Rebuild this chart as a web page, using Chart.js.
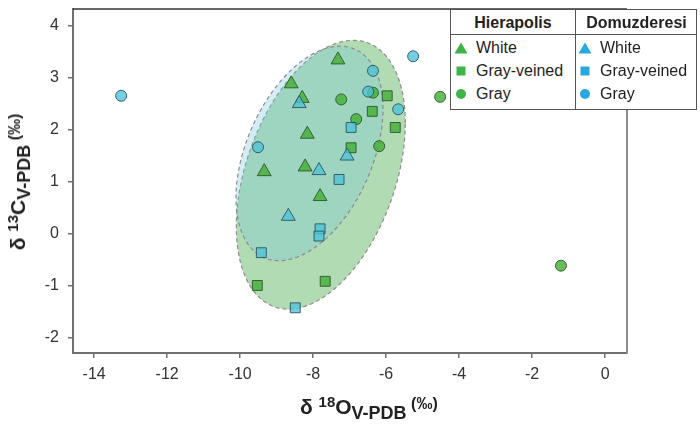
<!DOCTYPE html>
<html>
<head>
<meta charset="utf-8">
<script src="https://cdn.jsdelivr.net/npm/chart.js@4.4.0/dist/chart.umd.min.js"></script>
<style>
  body { margin: 0; background: #fff; font-family: Arial, "Liberation Sans", sans-serif; color: #222; }
  #wrap { position: relative; width: 700px; height: 428px; overflow: hidden; }
  canvas { position: absolute; left: 0; top: 0; }
  .title { position: absolute; font-weight: bold; white-space: nowrap; line-height: 22px; color: #222; }
  .title .m { font-size: 21px; }
  .title .sup { font-size: 15px; position: relative; top: -7px; }
  .title .sub { font-size: 18px; position: relative; top: 5px; }
  .title .pm { font-size: 16px; position: relative; top: -5px; }
  #xTitle { left: 300px; top: 396px; }
  #yTitle { left: 19px; top: 182px; transform: translate(-50%, -50%) rotate(-90deg); }
  #legend { position: absolute; left: 450px; top: 9px; width: 247px; height: 101px; border: 1.5px solid #555; background: #fff; box-sizing: border-box; }
  #legend .hdr { position: absolute; top: 0; height: 25px; line-height: 25px; text-align: center; font-weight: bold; font-size: 16px; }
  #legend .hline { position: absolute; left: 0; right: 0; top: 24px; border-top: 1.5px solid #555; }
  #legend .vline { position: absolute; top: 0; bottom: 0; left: 124px; border-left: 1.5px solid #555; }
  #legend .item { position: absolute; font-size: 16px; line-height: 20px; white-space: nowrap; }
  #legend svg { position: absolute; left: 0; top: 4px; }
  #legend .item span { position: absolute; left: 22px; top: 0; }
</style>
</head>
<body>
<div id="wrap">
  <canvas id="chart" width="700" height="428"></canvas>
  <div id="xTitle" class="title"><span class="m">δ </span><span class="sup">18</span><span class="m">O</span><span class="sub">V-PDB</span> <span class="pm">(‰)</span></div>
  <div id="yTitle" class="title"><span class="m">δ </span><span class="sup">13</span><span class="m">C</span><span class="sub">V-PDB</span> <span class="pm">(‰)</span></div>
  <div id="legend"></div>
</div>
<script>
// tick values
const xTicks = [-14, -12, -10, -8, -6, -4, -2, 0];
const yTicks = [-2, -1, 0, 1, 2, 3, 4];

// legend groups
const sites = ["Hierapolis", "Domuzderesi"];
const marbleTypes = ["White", "Gray-veined", "Gray"];

// Hierapolis samples (δ18O, δ13C)
const hierWhiteX = [-8.60, -7.32, -8.30, -8.16, -9.34, -8.22, -7.81];
const hierWhiteY = [2.88, 3.34, 2.60, 1.91, 1.19, 1.28, 0.71];
const hierVeinedX = [-5.97, -5.75, -6.96, -6.38, -9.53, -7.67];
const hierVeinedY = [2.65, 2.04, 1.65, 2.35, -1.00, -0.92];
const hierGrayX = [-7.23, -6.36, -6.82, -6.19, -4.52, -1.21];
const hierGrayY = [2.58, 2.71, 2.20, 1.68, 2.63, -0.62];

// Domuzderesi samples
const domWhiteX = [-8.38, -7.84, -8.68, -7.07];
const domWhiteY = [2.50, 1.21, 0.33, 1.49];
const domVeinedX = [-6.96, -7.29, -7.81, -7.84, -9.42, -8.49];
const domVeinedY = [2.04, 1.04, 0.09, -0.05, -0.37, -1.43];
const domGrayX = [-6.36, -6.49, -5.67, -9.51, -5.26, -13.26];
const domGrayY = [3.13, 2.73, 2.39, 1.66, 3.41, 2.65];

// confidence ellipses: centre x, centre y, sd x, sd y, correlation
const hierEllipse = [-7.79, 1.13, 2.315, 2.587, 0.385];
const domEllipse = [-8.10, 1.54, 2.014, 2.064, 0.415];

const toPoints = (xs, ys) => xs.map((v, i) => ({ x: v, y: ys[i] }));

const hierFill = "rgba(70,175,55,0.82)";
const hierLine = "rgba(45,85,45,0.9)";
const domFill = "rgba(75,195,215,0.78)";
const domLine = "rgba(45,80,95,0.9)";

function ds(label, xs, ys, style, fill, line) {
    const r = style === "triangle" ? 8 : style === "rect" ? 7 : 5.5;
    return {
        label: label,
        data: toPoints(xs, ys),
        pointStyle: style,
        pointRadius: r,
        backgroundColor: fill,
        borderColor: line,
        borderWidth: 1
    };
}

// ellipses are drawn under the points, through the chart's scales
const ellipsePlugin = {
    id: "ellipses",
    beforeDatasetsDraw(chart) {
        const { ctx, scales: { x, y } } = chart;
        const list = [[hierEllipse, "rgba(99,185,103,0.5)"], [domEllipse, "rgba(121,199,221,0.32)"]];
        list.forEach(([e, fill]) => {
            const [cx, cy, sx, sy, r] = e;
            ctx.save();
            ctx.beginPath();
            for (let i = 0; i <= 180; i++) {
                const t = i / 180 * 2 * Math.PI;
                const dx = cx + sx * Math.cos(t);
                const dy = cy + sy * (r * Math.cos(t) + Math.sqrt(1 - r * r) * Math.sin(t));
                const px = x.getPixelForValue(dx), py = y.getPixelForValue(dy);
                if (i === 0) ctx.moveTo(px, py); else ctx.lineTo(px, py);
            }
            ctx.closePath();
            ctx.fillStyle = fill;
            ctx.fill();
            ctx.setLineDash([4, 3]);
            ctx.strokeStyle = "#8c8c8c";
            ctx.lineWidth = 1.2;
            ctx.stroke();
            ctx.restore();
        });
    },
    afterDraw(chart) {
        // top and right frame lines
        const { ctx, chartArea: a } = chart;
        ctx.save();
        ctx.strokeStyle = "#333";
        ctx.lineWidth = 1.5;
        ctx.beginPath();
        ctx.moveTo(a.left, a.top);
        ctx.lineTo(a.right, a.top);
        ctx.stroke();
        ctx.strokeStyle = "#8a8a8a";
        ctx.lineWidth = 2;
        ctx.beginPath();
        ctx.moveTo(a.right, a.top);
        ctx.lineTo(a.right, a.bottom);
        ctx.stroke();
        ctx.restore();
    }
};

const axisGrid = { display: true, drawOnChartArea: false, drawTicks: true, tickLength: 5, color: "#707070", lineWidth: 1.5 };
const axisBorder = { display: true, color: "#707070", width: 2 };
const tickFont = { family: "Arial, 'Liberation Sans', sans-serif", size: 16 };

new Chart(document.getElementById("chart"), {
    type: "scatter",
    data: {
        datasets: [
            ds("Domuzderesi Gray", domGrayX, domGrayY, "circle", domFill, domLine),
            ds("Domuzderesi Gray-veined", domVeinedX, domVeinedY, "rect", domFill, domLine),
            ds("Domuzderesi White", domWhiteX, domWhiteY, "triangle", domFill, domLine),
            ds("Hierapolis Gray", hierGrayX, hierGrayY, "circle", hierFill, hierLine),
            ds("Hierapolis Gray-veined", hierVeinedX, hierVeinedY, "rect", hierFill, hierLine),
            ds("Hierapolis White", hierWhiteX, hierWhiteY, "triangle", hierFill, hierLine)
        ]
    },
    options: {
        responsive: false,
        animation: false,
        layout: { padding: { top: 0, right: 73, left: 0, bottom: 0 } },
        plugins: { legend: { display: false }, tooltip: { enabled: false } },
        scales: {
            x: {
                type: "linear",
                min: -14.58,
                max: 0.6,
                afterBuildTicks: s => { s.ticks = xTicks.map(v => ({ value: v })); },
                afterFit: s => { s.height = 75; s.paddingLeft = 0; s.paddingRight = 0; },
                grid: axisGrid,
                border: axisBorder,
                ticks: { font: tickFont, color: "#333", padding: 7, maxRotation: 0, autoSkip: false }
            },
            y: {
                type: "linear",
                min: -2.3,
                max: 4.32,
                afterBuildTicks: s => { s.ticks = yTicks.map(v => ({ value: v })); },
                afterFit: s => { s.width = 73; s.paddingTop = 0; s.paddingBottom = 0; },
                grid: axisGrid,
                border: axisBorder,
                ticks: { font: tickFont, color: "#333", padding: 9, autoSkip: false }
            }
        }
    },
    plugins: [ellipsePlugin]
});

// two-column legend table
const legendEl = document.getElementById("legend");
const colLeft = [0, 124];
const colWidth = [124, 123];
const legendColors = ["#3db34a", "#29a8df"];
const iconSvg = {
    "White": c => `<svg width="14" height="12"><polygon points="7,0.5 13.5,11.5 0.5,11.5" fill="${c}"/></svg>`,
    "Gray-veined": c => `<svg width="14" height="12"><rect x="2.5" y="1.5" width="9" height="9" fill="${c}"/></svg>`,
    "Gray": c => `<svg width="14" height="12"><circle cx="7" cy="6" r="5" fill="${c}"/></svg>`
};
let html = '<div class="hline"></div><div class="vline"></div>';
sites.forEach((s, i) => {
    html += `<div class="hdr" style="left:${colLeft[i]}px;width:${colWidth[i]}px">${s}</div>`;
    marbleTypes.forEach((t, j) => {
        html += `<div class="item" style="left:${colLeft[i] + 3}px;top:${28 + j * 23}px">${iconSvg[t](legendColors[i])}<span>${t}</span></div>`;
    });
});
legendEl.innerHTML = html;
</script>
</body>
</html>
